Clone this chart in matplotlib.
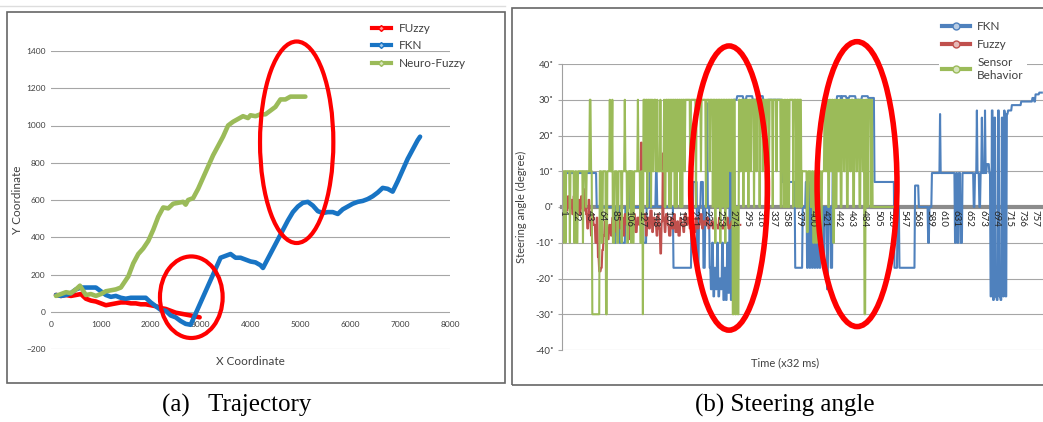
import numpy as np
import matplotlib
matplotlib.use("Agg")
import matplotlib.pyplot as plt
from matplotlib.patches import Ellipse, Rectangle
from matplotlib.lines import Line2D

plt.rcParams['font.family'] = ['Lato', 'DejaVu Sans']

# ---------------- (a) trajectory data -----------------
FUZZY_X = [100, 200, 300, 400, 500, 600, 700, 800, 900, 1000, 1100, 1200, 1300, 1400, 1500,
           1600, 1700, 1800, 1900, 2000, 2100, 2200, 2300, 2400, 2500, 2600, 2700, 2800, 2900, 2980]
FUZZY_Y = [90, 85, 90, 85, 90, 95, 70, 60, 55, 45, 35, 40, 45, 50, 50,
           45, 45, 40, 40, 35, 30, 20, 15, 5, -5, -10, -15, -20, -25, -30]

FKN_X = [100, 200, 300, 400, 500, 600, 700, 800, 900, 1000, 1100, 1200, 1300, 1400, 1500,
         1600, 1700, 1800, 1900, 2000, 2100, 2200, 2300, 2400, 2500, 2600, 2700, 2800, 2900,
         3000, 3100, 3200, 3300, 3400, 3500, 3600, 3700, 3800, 3900, 4000, 4100, 4200, 4250,
         4350, 4450, 4550, 4650, 4750, 4850, 4950, 5050, 5150, 5250, 5350, 5450, 5550, 5650,
         5750, 5850, 5950, 6050, 6150, 6250, 6350, 6450, 6550, 6650, 6750, 6850, 6950, 7050,
         7150, 7250, 7350, 7400]
FKN_Y = [90, 85, 90, 100, 120, 130, 130, 130, 130, 110, 90, 80, 85, 75, 70,
         75, 75, 75, 75, 50, 30, 10, 5, -20, -30, -50, -65, -70, -10,
         50, 110, 170, 230, 290, 300, 310, 290, 290, 280, 270, 265, 250, 235,
         286, 337, 388, 439, 490, 535, 565, 585, 590, 570, 540, 530, 535, 535,
         525, 550, 565, 580, 590, 595, 605, 620, 640, 665, 660, 645, 700, 760,
         820, 870, 920, 940]

NEURO_X = [100, 200, 300, 400, 500, 580, 650, 700, 800, 900, 1000, 1100, 1200, 1300, 1400,
           1450, 1550, 1650, 1750, 1850, 1950, 2050, 2150, 2250, 2350, 2450, 2550, 2650, 2700,
           2750, 2850, 2950, 3050, 3150, 3250, 3350, 3450, 3550, 3650, 3750, 3850, 3950, 4000,
           4100, 4200, 4300, 4400, 4500, 4600, 4700, 4800, 4900, 5000, 5100]
NEURO_Y = [85, 95, 105, 100, 120, 140, 110, 90, 95, 85, 95, 110, 115, 120, 130,
           150, 190, 260, 310, 340, 380, 440, 510, 560, 555, 580, 585, 590, 575,
           600, 610, 660, 720, 780, 840, 890, 940, 1000, 1020, 1035, 1050, 1040, 1055,
           1050, 1060, 1060, 1080, 1100, 1140, 1140, 1155, 1155, 1155, 1155]

# ---------------- (b) steering angle data (start index, value) -----------------
FKN_STEPS = [(1, 0), (2, 9.5), (55, 0), (83, -10), (86, 0), (92, -10), (101, 0), (108, 10), (110, 0),
             (130, -10), (135, 0), (140, 10), (141, 0), (150, 10), (152, 0), (178, -17), (207, 0),
             (210, 7), (216, -17), (219, 0), (222, 7), (226, -17), (229, 0), (232, 29), (233, 0),
             (236, -17), (238, -23), (240, -10), (242, -25), (244, -17), (246, -23), (248, -10),
             (250, -25), (252, -20), (254, -23), (256, -10), (258, -26), (260, -17), (262, -26),
             (264, -10), (266, -24), (268, 10), (270, -26), (272, 29), (274, 30), (280, 31),
             (290, 30), (295, 31), (305, 30), (315, 31), (322, 29.5), (330, 30), (352, 7),
             (373, -17), (385, 0), (390, 7), (392, -17), (394, 7), (396, -17), (398, 0),
             (400, -17), (402, 7), (404, -17), (406, -10), (408, -17), (410, 7), (412, -17),
             (414, 0), (418, -17), (420, 0), (424, -23), (426, 0), (430, -17), (433, 10),
             (436, 29), (440, 31), (447, 25), (448, 31), (455, 30.5), (460, 31), (470, 30),
             (480, 31), (490, 30.5), (500, 7), (532, -17), (537, 0), (540, -17), (565, 6),
             (571, 0), (586, -10), (588, 0), (592, 9.5), (605, 26), (606, 9.5), (629, -10),
             (631, 9.5), (633, -10), (635, 9.5), (638, -10), (641, 9.5), (659, 0), (661, 9.5),
             (664, 27), (665, 9.5), (668, 0), (670, 9.5), (672, 25), (673, 9.5), (677, 27),
             (678, 9.5), (680, 12), (684, 9.5), (686, -25), (688, 27), (690, -26), (692, 25),
             (694, -25), (696, -26), (698, 27), (700, -25), (702, -26), (704, 25), (706, -25),
             (708, 27), (709, 25), (710, -25), (712, 26), (714, 27), (720, 28.5), (735, 29.5),
             (753, 30.5), (756, 29.5), (758, 31.5), (764, 32)]
FKN_END = 768

FUZZY_STEPS = [(1, 0), (4, 2), (6, -1), (9, 3), (11, 0), (14, 2), (16, -2), (18, 3), (20, 0),
               (23, -3), (25, 2), (28, -2), (30, 3), (33, -1), (36, 5), (38, -2), (40, -6),
               (42, 2), (44, -4), (46, -8), (48, -2), (50, -5), (53, -10), (55, -3), (57, -14),
               (59, -18), (62, -17), (64, -12), (66, -8), (68, -4), (70, -6), (73, -9), (75, -5),
               (78, -8), (80, -3), (83, -7), (85, -4), (88, -8), (90, -2), (93, -6), (95, -3),
               (98, -8), (100, -2), (103, -5), (106, -9), (108, -3), (111, -6), (114, -2),
               (117, -7), (120, -3), (123, -5), (125, 2), (126, 18), (128, -4), (131, -2),
               (134, -8), (136, -3), (139, -6), (141, -1), (144, -7), (146, -3), (149, -5),
               (151, -8), (153, -2), (155, -6), (157, -13), (159, -4), (161, 15), (162, -3),
               (164, -7), (166, -2), (169, -5), (171, -8), (174, -3), (176, -6), (179, -2),
               (181, -7), (184, -4), (186, -8), (189, -3), (191, -5), (194, -7), (196, -2),
               (199, -5), (201, -3), (204, -6), (206, -2), (209, -5), (211, -7), (214, -3),
               (216, -6), (219, -5), (221, -2), (224, -6), (226, -4), (229, -5), (231, -3),
               (234, -6), (236, -5), (239, -4), (241, -6), (244, -3), (246, -5), (249, -6),
               (251, -3), (254, -5), (256, -6), (259, -4), (261, -5), (264, -3), (266, -6),
               (269, -5), (271, -4), (274, -6), (276, -5), (279, -3), (281, -5)]
FUZZY_END = 285

SENSOR_STEPS = [(1, -10), (2, 10), (5, -10), (6, 10), (12, -10), (13, 10), (19, -10), (21, 10),
                (23, -10), (25, 10), (33, -10), (34, 10), (38, 0), (39, 10), (44, 30), (46, 10),
                (48, -30), (60, 10), (63, -10), (65, 10), (70, -30), (72, 10), (76, 30), (77, 10),
                (80, 30), (81, -10), (84, 10), (88, -10), (90, 10), (95, -10), (96, 10), (100, 30),
                (101, 10), (104, -10), (106, 10), (110, -10), (111, 10), (113, -10), (115, 10),
                (121, 30), (122, 10), (125, -10), (127, 10), (129, -30), (130, 30), (133, 10),
                (134, 30), (136, 0), (137, 30), (139, 10), (140, 30), (142, 0), (143, 30),
                (145, 10), (147, 30), (150, 10), (152, 30), (153, 10), (157, 30), (158, 10),
                (163, 30), (164, 0), (166, 30), (168, 10), (169, 30), (171, 0), (172, 30),
                (174, 0), (175, 30), (177, 10), (178, 30), (180, 0), (181, 30), (183, 0),
                (184, 30), (186, 10), (187, 30), (189, 0), (190, 30), (192, 0), (193, 30),
                (196, 10), (197, 30), (205, 0), (206, 30), (214, 0), (215, 30), (222, 10),
                (223, 30), (230, 0), (231, 30), (236, 10), (237, 30), (241, 0), (242, 30),
                (245, -10), (246, 30), (249, 0), (250, 30), (253, -10), (254, 30), (257, 0),
                (258, 30), (261, -10), (262, 30), (265, 0), (266, 30), (269, 10), (270, 30),
                (273, -30), (275, 30), (277, -30), (279, 0), (281, -30), (283, 30), (285, 10),
                (287, 30), (290, 0), (291, 30), (294, 10), (295, 30), (298, 0), (299, 30),
                (302, 10), (303, 30), (307, 0), (308, 30), (311, 10), (312, 30), (316, 0),
                (317, 30), (321, 10), (322, 30), (326, 0), (327, 30), (331, 10), (332, 30),
                (337, 0), (338, 30), (343, 10), (344, 30), (350, 0), (351, 30), (354, 0),
                (356, 30), (358, 0), (360, 30), (362, 0), (364, 30), (370, 0), (371, 30),
                (375, 0), (376, 30), (379, 0), (380, 30), (383, 0), (384, 10), (392, -7),
                (394, 10), (398, 0), (400, 10), (402, -10), (404, 10), (406, -10), (408, 10),
                (410, -10), (412, 10), (414, -10), (416, 10), (420, 30), (422, 10), (424, 30),
                (426, 0), (428, 30), (430, 10), (432, 30), (434, -10), (436, 30), (438, 0),
                (440, 30), (442, 10), (444, 30), (446, 0), (448, 30), (451, 10), (453, 30),
                (456, 0), (458, 30), (461, 10), (463, 30), (466, 0), (468, 30), (471, 10),
                (473, 30), (476, 0), (478, 30), (481, 10), (483, 30), (484, -30), (486, 30),
                (489, 0), (490, 30), (494, 0), (495, 30), (497, 0)]
SENSOR_END = 532

TIME_TICKS = [1, 22, 43, 64, 85, 106, 127, 148, 169, 190, 211, 232, 253, 274, 295, 316, 337, 358,
              379, 400, 421, 442, 463, 484, 505, 526, 547, 568, 589, 610, 631, 652, 673, 694,
              715, 736, 757]
ANGLE_TICKS = [-40, -30, -20, -10, 0, 10, 20, 30, 40]

# red highlight ellipses, (center x, center y, width, height) in data units
TRAJ_MARKS = [(2813, 78, 1257, 438), (4926, 910, 1470, 1082)]
STEER_MARKS = [(267, 5.3, 123, 79.5), (472, 6.4, 128, 79.7)]


def steps(pairs, end):
    """Expand (start index, value) runs into a per-sample series."""
    starts = np.array([p[0] for p in pairs])
    vals = np.array([p[1] for p in pairs], dtype=float)
    lengths = np.diff(np.append(starts, end + 1))
    return np.arange(starts[0], end + 1), np.repeat(vals, lengths)


W, H = 1043, 422
fig = plt.figure(figsize=(W / 100, H / 100), dpi=100)


def fx(px):
    return px / W


def fy(py):
    return 1 - py / H


TXT = '#404040'
GRID = '#A6A6A6'

# ---------------- panel (a) -----------------
ax1 = fig.add_axes([fx(51), fy(349), fx(450) - fx(51), fy(51) - fy(349)])
ax1.plot(FUZZY_X, FUZZY_Y, color='#FF0000', lw=3.3, solid_capstyle='round')
ax1.plot(FKN_X, FKN_Y, color='#1874C4', lw=3.3, solid_capstyle='round')
ax1.plot(NEURO_X, NEURO_Y, color='#9BBB59', lw=3.3, solid_capstyle='round')
ax1.set_xlim(0, 8000)
ax1.set_ylim(-200, 1400)
ax1.set_xticks(range(0, 8001, 1000))
ax1.set_yticks(range(-200, 1401, 200))
ax1.grid(axis='y', color=GRID, lw=0.8)
ax1.set_axisbelow(True)
for s in ax1.spines.values():
    s.set_visible(False)
ax1.spines['bottom'].set_position(('data', 0))
ax1.tick_params(length=0, labelsize=6, colors=TXT)
ax1.tick_params(axis='x', pad=7)
ax1.tick_params(axis='y', pad=4)
ax1.set_xlabel('X Coordinate', fontsize=8.5, color=TXT)
ax1.xaxis.set_label_coords(0.5, -0.025)
ax1.set_ylabel('Y Coordinate', fontsize=8.5, color=TXT)
ax1.yaxis.set_label_coords(-0.07, 0.5)

h1 = [Line2D([], [], color=c, lw=3, marker='D', ms=3, mfc=m, mec=c)
      for c, m in [('#FF0000', '#FF9999'), ('#1874C4', '#9EC5E8'), ('#9BBB59', '#D7E4BD')]]
fig.legend(h1, ['FUzzy', 'FKN', 'Neuro-Fuzzy'], loc='upper left',
           bbox_to_anchor=(fx(366), fy(17)), frameon=False, fontsize=8.5,
           handlelength=1.6, handletextpad=0.7, labelspacing=0.55, borderpad=0,
           labelcolor=TXT)

for cx, cy, w, h in TRAJ_MARKS:
    ax1.add_patch(Ellipse((cx, cy), w, h, fill=False, ec='#FF0000', lw=3, clip_on=False, zorder=6))

# ---------------- panel (b) -----------------
ax2 = fig.add_axes([fx(562), fy(350), fx(1044) - fx(562), fy(64) - fy(350)])
bx, by = steps(FKN_STEPS, FKN_END)
rx, ry = steps(FUZZY_STEPS, FUZZY_END)
gx, gy = steps(SENSOR_STEPS, SENSOR_END)
ax2.plot(bx, by, color='#4F81BD', lw=1.5, zorder=2)
ax2.plot(rx, ry, color='#C0504D', lw=1.5, zorder=2.1)
ax2.plot(gx, gy, color='#9BBB59', lw=1.5, zorder=2.2)
ax2.set_xlim(-0.6, 771.5)
ax2.set_ylim(-40, 40)
ax2.set_yticks(ANGLE_TICKS)
ax2.set_yticklabels([f'{v}\u02da' for v in ANGLE_TICKS])
ax2.set_xticks(TIME_TICKS)
ax2.set_xticklabels([str(t) for t in TIME_TICKS])
ax2.grid(axis='y', color=GRID, lw=0.8)
ax2.set_axisbelow(True)
# time labels sit on top of the traces, like the original
ax2.xaxis.set_zorder(3)
ax2.spines['top'].set_visible(False)
ax2.spines['right'].set_visible(False)
ax2.spines['left'].set_color('#A0A0A0')
ax2.spines['left'].set_linewidth(0.8)
ax2.spines['bottom'].set_position(('data', 0))
ax2.spines['bottom'].set_color('#8C8C8C')
ax2.spines['bottom'].set_linewidth(3)
ax2.spines['bottom'].set_zorder(1.9)
ax2.tick_params(axis='y', length=3, color=GRID, labelsize=7, pad=3, labelcolor=TXT)
ax2.tick_params(axis='x', length=0, labelsize=7, pad=2, labelrotation=-90, labelcolor='#262626')
ax2.set_xlabel('Time (x32 ms)', fontsize=8, color=TXT)
ax2.xaxis.set_label_coords(0.463, -0.025)
ax2.set_ylabel('Steering angle (degree)', fontsize=8, color=TXT)
ax2.yaxis.set_label_coords(-0.073, 0.5)

h2 = [Line2D([], [], color=c, lw=3, marker='o', ms=5, mfc=m, mec=c)
      for c, m in [('#4F81BD', '#B8CCE4'), ('#C0504D', '#E6B9B8'), ('#9BBB59', '#D7E4BD')]]
fig.legend(h2, ['FKN', 'Fuzzy', 'Sensor\nBehavior'], loc='upper left',
           bbox_to_anchor=(fx(933), fy(12)), frameon=True, fancybox=False,
           edgecolor='none', facecolor='white', framealpha=1, fontsize=8.5,
           handlelength=2.4, handletextpad=0.6, labelspacing=0.6, borderpad=0.25,
           labelcolor=TXT)

for cx, cy, w, h in STEER_MARKS:
    ax2.add_patch(Ellipse((cx, cy), w, h, fill=False, ec='#FF0000', lw=4, clip_on=False, zorder=6))

# ---------------- frames and captions -----------------
fig.add_artist(Line2D([0, fx(505)], [fy(6), fy(6)], color='#DDDDDD', lw=1))
fig.add_artist(Rectangle((fx(7), fy(383)), fx(505) - fx(7), fy(12) - fy(383),
                         fill=False, ec='#666666', lw=1.2))
fig.add_artist(Rectangle((fx(512), fy(385)), fx(1046) - fx(512), fy(8) - fy(385),
                         fill=False, ec='#666666', lw=1.2))
fig.text(fx(237), fy(405), '(a)   Trajectory', family=['Liberation Serif'], fontsize=18,
         ha='center', va='center')
fig.text(fx(785), fy(405), '(b) Steering angle', family=['Liberation Serif'], fontsize=18,
         ha='center', va='center')

fig.savefig('out.png', dpi=100)
